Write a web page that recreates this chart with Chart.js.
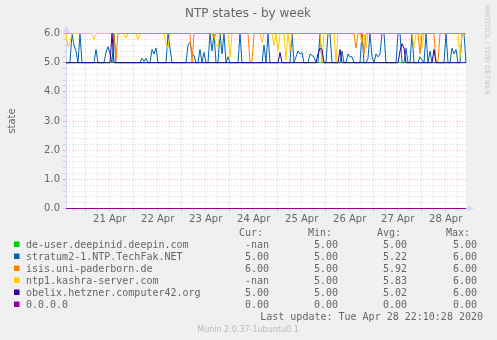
<!DOCTYPE html>
<html>
<head>
<meta charset="utf-8">
<title>NTP states - by week</title>
<script src="https://cdn.jsdelivr.net/npm/chart.js@4/dist/chart.umd.min.js"></script>
<style>
  html, body { margin: 0; padding: 0; background: #f0f0f0; }
  canvas { display: block; }
</style>
</head>
<body>
<canvas id="ntpChart" width="497" height="340"></canvas>
<script>
// one sample per hour, first one at 20 Apr 14:10, last at 28 Apr 22:10
const startHour = 14 + 10 / 60;

const deUser = [
  5,5,5,5,5,5,5,5,5,5, 5,5,5,5,5,5,5,5,5,5,
  5,5,5,5,5,5,5,5,5,5, 5,5,5,5,5,5,5,5,5,5,
  5,5,5,5,5,5,5,5,5,5, 5,5,5,5,5,5,5,5,5,5,
  5,5,5,5,5,5,5,5,5,5, 5,5,5,5,5,5,5,5,5,5,
  5,5,5,5,5,5,5,5,5,5, 5,5,5,5,5,5,5,5,5,5,
  5,5,5,5,5,5,5,5,5,5, 5,5,5,5,5,5,5,5,5,5,
  5,5,5,5,5,5,5,5,5,5, 5,5,5,5,5,5,5,5,5,5,
  5,5,5,5,5,5,5,5,5,5, 5,5,5,5,5,5,5,5,5,5,
  5,5,5,5,5,5,5,5,5,5, 5,5,5,5,5,5,5,5,5,5,
  5,5,5,5,5,5,5,5,5,5, 5,5,5,5,5,5,5,5,null,null,
  null
];

const stratum2 = [
  5,5,5,6,5.6,5.4,5,6,5,5,        5,5,5,5,5,5.45,5,5,5,5,
  5.35,5.55,5.3,5,6,5,5,5,5,5,    5,5,5,5,5,5,5,5,5.15,5.05,
  5.15,5,5,5.45,5.3,5.5,5,5,5,5,  5,6,5.5,5,5,5,5,5,5,5,
  5,5.6,5.7,5.3,5.25,5,5,5.45,5,5.35, 5,5,6,5.4,6,5,5,6,5.3,6,
  5,5.2,5,5,5,5,5,6,5,5,          5,5,5,5,5,5,5,5,5,5.6,
  5,6,5,5,5,5,5,5,5,5,            5,5,5,6,5,5.2,5.4,5.3,5.35,5,
  5,5,5.3,5.25,5.2,5,5,6,5,5,     5,6,6,5,5,5,5,5,5.4,5,
  5,5.3,5.2,5.2,5,5,5,5,6,5,      5,5.15,6,5.2,5,5.3,5.2,5.3,6,6,
  5,5,5,5,5,5,6,6,5,5,            5.5,5,5,6,5,5,5,5.2,5.1,5,
  6,5,5.4,5,5,5,5,5,5,5,          6,5,5,5.5,5.3,5.45,5,5,6,6,
  5
];

const isis = [
  6,6,6,null,null,null,null,null,null,null, null,null,null,null,null,null,null,null,null,null,
  null,null,null,6,6,5.1,6,6,6,6, 6,6,6,6,6,6,6,6,6,6,
  6,6,6,6,6,6,6,6,6,6,            6,6,6,6,6,6,6,6,6,6,
  6,6,6,5,6,6,6,6,6,6,            6,6,6,6,5.85,6,6,6,6,6,
  6,6,6,6,6,6,6,6,6,6,            6,6,5,5.05,6,6,6,6,6,6,
  6,6,6,6,6,6,6,6,6,6,            6,6,6,6,6,6,6,6,6,6,
  6,6,6,6,6,6,6,6,6,6,            6,6,6,6,6,6,6,6,6,6,
  6,6,6,6,6,5.5,6,6,6,5.3,        6,6,6,6,6,6,6,6,6,6,
  6,6,6,6,6,6,6,6,6,6,            6,6,6,6,6,6,6,5.3,6,6,
  6,6,6,6,6,5,5.05,6,6,6,         6,6,6,6,6,6,6,6,6,6,
  6
];

const ntp1 = [
  6,5.55,5.7,6,6,6,6,6,6,6,       6,6,6,6,5.8,6,6,6,6,6,
  6,6,6,6,6,6,6,6,6,6,            5.85,6,6,6,6,6,5.8,6,6,6,
  6,6,6,6,6,6,6,6,6,6,            5.65,5.5,6,6,6,6,6,6,6,6,
  6,6,6,6,6,6,6,6,6,6,            6,6,6,6,6,5.6,5.55,6,6,6,
  6,6,5.2,6,6,6,6,6,6,6,          6,6,6,6,6,6,6,6,5.7,6,
  6,6,6,6,5.6,6,5.4,6,6,6,        5.1,6,5.4,6,6,6,6,6,6,6,
  6,6,6,6,6,6,6,6,5,6,            6,6,6,6,6,5,6,6,6,6,
  6,6,6,6,6,6,6,6,5.7,6,          5.5,6,6,6,6,6,6,6,6,6,
  6,6,6,6,6,6,6,6,6,6,            6,6,6,6,5.5,6,6,6,5.5,6,
  6,6,6,6,6,6,6,6,6,6,            6,6,6,6,6,6,6,5.2,6,6,
  null
];

const obelix = [
  5,5,5,5,5,5,5,5,5,5,            5,5,5,5,5,5,5,5,5,5,
  5,5,5,6,5,5,5,5,5,5,            5,5,5,5,5,5,5,5,5,5,
  5,5,5,5,5,5,5,5,5,5,            5,5,5,5,5,5,5,5,5,5,
  5,5,5,5,5,5,5,5,5,5,            5,5,5,5,5,5,5,5,5,5,
  5,5,5,5,5,5,5,5,5,5,            5,5,5,5,5,5,5,5,5,5,
  5,5,5,5,5,5,5,5.35,5,5,         5,5,5,5,5,5,5,5,5,5,
  5,5,5,5,5,5,5.3,5.5,5.45,5,     5,5,5,5,5,5,5,5.45,5,5,
  5,5,5,5,5,5,5,5,5,5,            5,5,5,5,5,5,5,5,5,5,
  5,5,5,5,5,5,5,5.4,5.65,5.5,     5,5,5,5,5,5,5,5,5,5,
  5,5,5,5,5.45,5,5,5,5,5,         5,5,5,5,5,5,5,5,5,5,
  5
];

const zeroHost = [
  0,0,0,0,0,0,0,0,0,0, 0,0,0,0,0,0,0,0,0,0,
  0,0,0,0,0,0,0,0,0,0, 0,0,0,0,0,0,0,0,0,0,
  0,0,0,0,0,0,0,0,0,0, 0,0,0,0,0,0,0,0,0,0,
  0,0,0,0,0,0,0,0,0,0, 0,0,0,0,0,0,0,0,0,0,
  0,0,0,0,0,0,0,0,0,0, 0,0,0,0,0,0,0,0,0,0,
  0,0,0,0,0,0,0,0,0,0, 0,0,0,0,0,0,0,0,0,0,
  0,0,0,0,0,0,0,0,0,0, 0,0,0,0,0,0,0,0,0,0,
  0,0,0,0,0,0,0,0,0,0, 0,0,0,0,0,0,0,0,0,0,
  0,0,0,0,0,0,0,0,0,0, 0,0,0,0,0,0,0,0,0,0,
  0,0,0,0,0,0,0,0,0,0, 0,0,0,0,0,0,0,0,0,0,
  0
];

const dayLabels = ['21 Apr', '22 Apr', '23 Apr', '24 Apr', '25 Apr', '26 Apr', '27 Apr', '28 Apr'];
const yLabels = ['0.0', '1.0', '2.0', '3.0', '4.0', '5.0', '6.0'];

const hostNames = ['de-user.deepinid.deepin.com', 'stratum2-1.NTP.TechFak.NET', 'isis.uni-paderborn.de',
  'ntp1.kashra-server.com', 'obelix.hetzner.computer42.org', '0.0.0.0'];
const hostColors = ['#00CC00', '#0066B3', '#FF8000', '#FFCC00', '#330099', '#990099'];
const curVals = ['-nan', '5.00', '6.00', '-nan', '5.00', '0.00'];
const minVals = ['5.00', '5.00', '5.00', '5.00', '5.00', '0.00'];
const avgVals = ['5.00', '5.22', '5.92', '5.83', '5.02', '0.00'];
const maxVals = ['5.00', '6.00', '6.00', '6.00', '6.00', '0.00'];

const hours = obelix.map((_, i) => startHour + i);

// grid every 6 hours on x, every 0.2 on y
const xGrid = [];
for (let h = 18; h <= 210; h += 6) xGrid.push(h);
const yGrid = [];
for (let i = 0; i <= 30; i++) yGrid.push(i / 5);

const minorGrid = 'rgba(143,143,143,0.32)';
const majorGrid = 'rgba(222,79,79,0.42)';
const axisCol = '#CFD6F8';
const fontCol = '#666666';

const munin = {
  id: 'munin',
  beforeDraw(chart) {
    const { ctx, chartArea: a } = chart;
    ctx.save();
    ctx.fillStyle = '#F0F0F0';
    ctx.fillRect(0, 0, chart.width, chart.height);
    ctx.fillStyle = '#FFFFFF';
    ctx.fillRect(a.left, Math.floor(a.top), a.right - a.left, Math.ceil(a.bottom) - Math.floor(a.top));
    ctx.restore();
  },
  beforeDatasetsDraw(chart) {
    // solid axis lines with rrdtool style arrows
    const { ctx, chartArea: a } = chart;
    const ax = Math.floor(a.left) + 0.5;
    const ay = Math.floor(a.bottom) + 0.5;
    ctx.save();
    ctx.strokeStyle = axisCol;
    ctx.fillStyle = axisCol;
    ctx.lineWidth = 1;
    ctx.setLineDash([]);
    ctx.beginPath();
    ctx.moveTo(ax, ay + 3); ctx.lineTo(ax, a.top - 3);
    ctx.moveTo(ax - 3, ay); ctx.lineTo(a.right + 3, ay);
    ctx.stroke();
    ctx.beginPath();
    ctx.moveTo(ax, a.top - 8); ctx.lineTo(ax - 3, a.top - 2); ctx.lineTo(ax + 3, a.top - 2);
    ctx.closePath(); ctx.fill();
    ctx.beginPath();
    ctx.moveTo(a.right + 8, ay); ctx.lineTo(a.right + 2, ay - 3); ctx.lineTo(a.right + 2, ay + 3);
    ctx.closePath(); ctx.fill();
    ctx.restore();
  },
  afterDraw(chart) {
    const { ctx, chartArea: a } = chart;
    ctx.save();
    // title
    ctx.fillStyle = fontCol;
    ctx.font = '12px "DejaVu Sans"';
    ctx.textAlign = 'center';
    ctx.textBaseline = 'alphabetic';
    ctx.fillText('NTP states - by week', 248, 17);

    // vertical axis title
    ctx.save();
    ctx.translate(15, (a.top + a.bottom) / 2);
    ctx.rotate(-Math.PI / 2);
    ctx.font = '10px "DejaVu Sans"';
    ctx.fillText('state', 0, 0);
    ctx.restore();

    // rrdtool credit on the right
    ctx.save();
    ctx.translate(485, 5);
    ctx.rotate(Math.PI / 2);
    ctx.font = '7px "DejaVu Sans"';
    ctx.fillStyle = '#C8C8C8';
    ctx.textAlign = 'left';
    ctx.fillText('RRDTOOL / TOBI OETIKER', 0, 0);
    ctx.restore();

    // legend table
    ctx.font = '10px "DejaVu Sans Mono"';
    ctx.fillStyle = fontCol;
    ctx.textAlign = 'right';
    ctx.fillText('Cur:', 263, 236);
    ctx.fillText('Min:', 332, 236);
    ctx.fillText('Avg:', 401, 236);
    ctx.fillText('Max:', 470, 236);
    hostNames.forEach((name, i) => {
      const y = 248 + i * 12;
      ctx.fillStyle = hostColors[i];
      ctx.fillRect(14, y - 6.5, 5.5, 5.5);
      ctx.fillStyle = fontCol;
      ctx.textAlign = 'left';
      ctx.fillText(name, 26, y);
      ctx.textAlign = 'right';
      ctx.fillText(curVals[i], 269, y);
      ctx.fillText(minVals[i], 338, y);
      ctx.fillText(avgVals[i], 407, y);
      ctx.fillText(maxVals[i], 477, y);
    });
    ctx.fillText('Last update: Tue Apr 28 22:10:28 2020', 483, 320);

    ctx.font = '8px "DejaVu Sans"';
    ctx.fillStyle = '#BBBBBB';
    ctx.textAlign = 'center';
    ctx.fillText('Munin 2.0.37-1ubuntu0.1', 248, 332);
    ctx.restore();
  }
};

function line(label, data, color, order) {
  return {
    label, data, order,
    borderColor: color,
    borderWidth: 1,
    pointRadius: 0,
    tension: 0,
    fill: false,
    spanGaps: false,
    clip: 2
  };
}

new Chart(document.getElementById('ntpChart'), {
  type: 'line',
  data: {
    labels: hours,
    datasets: [
      line(hostNames[0], deUser, hostColors[0], 6),
      line(hostNames[1], stratum2, hostColors[1], 5),
      line(hostNames[2], isis, hostColors[2], 3),
      line(hostNames[3], ntp1, hostColors[3], 4),
      line(hostNames[4], obelix, hostColors[4], 2),
      line(hostNames[5], zeroHost, hostColors[5], 1)
    ]
  },
  options: {
    responsive: false,
    animation: false,
    events: [],
    layout: { padding: { left: 0, top: 33.5, right: 31, bottom: 111.5 } },
    plugins: { legend: { display: false }, tooltip: { enabled: false } },
    scales: {
      x: {
        type: 'linear',
        min: startHour,
        max: startHour + 200,
        afterBuildTicks: s => { s.ticks = xGrid.map(v => ({ value: v })); },
        afterFit: s => { s.height = 20; },
        grid: {
          color: c => (c.tick && c.tick.value % 24 === 0) ? majorGrid : minorGrid,
          tickLength: 3
        },
        border: { display: false, dash: [1, 2] },
        ticks: {
          autoSkip: false,
          maxRotation: 0,
          padding: 2,
          color: fontCol,
          font: { family: 'DejaVu Sans', size: 10 },
          callback: v => {
            const k = (v - 12) / 24 - 1;
            return Number.isInteger(k) && dayLabels[k] ? dayLabels[k] : '';
          }
        }
      },
      y: {
        min: 0,
        max: 6,
        afterBuildTicks: s => { s.ticks = yGrid.map(v => ({ value: v })); },
        afterFit: s => { s.width = 66; },
        grid: {
          color: c => (c.tick && Math.round(c.tick.value * 5) % 5 === 0) ? majorGrid : minorGrid,
          tickLength: 3
        },
        border: { display: false, dash: [1, 2] },
        ticks: {
          autoSkip: false,
          padding: 3,
          color: fontCol,
          font: { family: 'DejaVu Sans', size: 10 },
          callback: (v, i) => (i % 5 === 0 ? yLabels[i / 5] : '')
        }
      }
    }
  },
  plugins: [munin]
});
</script>
</body>
</html>
